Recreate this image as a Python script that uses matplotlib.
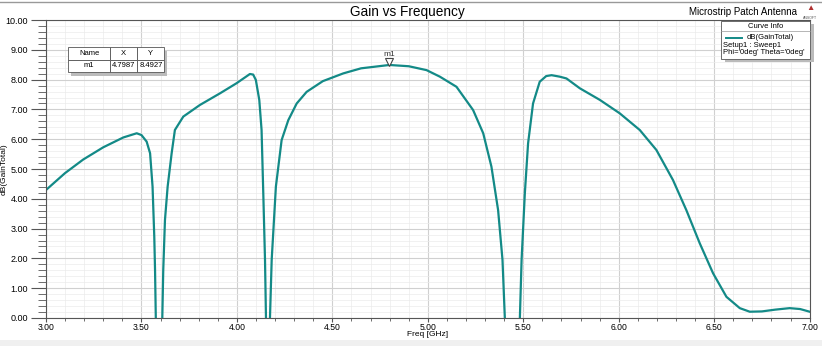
import matplotlib.pyplot as plt
from matplotlib.ticker import MultipleLocator

plt.rcParams['font.family'] = ['Liberation Sans', 'DejaVu Sans']

# dB(GainTotal) vs frequency (dips go below 0 and get clipped)
freq = [3.004, 3.099, 3.195, 3.30, 3.405, 3.475, 3.50, 3.527, 3.545, 3.558, 3.567, 3.571, 3.575,
        3.59, 3.609, 3.614, 3.623, 3.637, 3.658, 3.675, 3.719, 3.806, 3.911, 3.998, 4.068,
        4.085, 4.099, 4.117, 4.129, 4.138, 4.147, 4.152, 4.162, 4.173, 4.182, 4.204, 4.234,
        4.269, 4.313, 4.365, 4.45, 4.557, 4.65, 4.7987, 4.90, 4.993, 5.063, 5.150, 5.237,
        5.290, 5.333, 5.368, 5.391, 5.403, 5.44, 5.482, 5.491, 5.508, 5.525, 5.551, 5.586,
        5.62, 5.648, 5.691, 5.726, 5.796, 5.901, 6.005, 6.110, 6.197, 6.284, 6.354, 6.424,
        6.494, 6.564, 6.634, 6.686, 6.75, 6.82, 6.895, 6.95, 7.00]
gain = [4.32, 4.86, 5.32, 5.73, 6.06, 6.20, 6.14, 5.92, 5.53, 4.41, 2.73, 1.61, 0.0,
        -5.0, 0.0, 1.61, 3.29, 4.41, 5.53, 6.31, 6.76, 7.15, 7.54, 7.88, 8.19,
        8.17, 7.99, 7.32, 6.31, 4.18, 1.95, 0.04, -5.0, 0.0, 1.95, 4.41, 5.97,
        6.64, 7.20, 7.59, 7.95, 8.21, 8.38, 8.4927, 8.45, 8.32, 8.10, 7.76, 6.98,
        6.20, 5.08, 3.62, 1.95, 0.04, -5.0, 0.0, 1.95, 4.18, 5.86, 7.20, 7.93,
        8.12, 8.15, 8.10, 8.04, 7.71, 7.32, 6.87, 6.31, 5.64, 4.63, 3.62, 2.51,
        1.50, 0.71, 0.33, 0.21, 0.22, 0.28, 0.33, 0.30, 0.21]

marker_x = 4.7987
marker_y = 8.4927
x_ticks = [3.0, 3.5, 4.0, 4.5, 5.0, 5.5, 6.0, 6.5, 7.0]
y_ticks = [0, 1, 2, 3, 4, 5, 6, 7, 8, 9, 10]

teal = '#138a87'

fig = plt.figure(figsize=(8.22, 3.46), dpi=100)
ax = fig.add_axes([0.056, 0.081, 0.929, 0.861])

ax.plot(freq, gain, color=teal, lw=1.6, solid_joinstyle='round')
ax.plot([marker_x], [8.6], marker='v', mfc='white', mec='#444444', ms=6, mew=0.8, clip_on=False)
ax.text(marker_x, 8.72, 'm1', ha='center', va='bottom', fontsize=6, color='#333333')

ax.set_xlim(3, 7)
ax.set_ylim(0, 10)
ax.set_xticks(x_ticks)
ax.set_xticklabels([f'{v:.2f}' for v in x_ticks], fontsize=6.2)
ax.set_yticks(y_ticks)
ax.set_yticklabels([f'{v:.2f}' for v in y_ticks], fontsize=6.5)
ax.xaxis.set_minor_locator(MultipleLocator(0.1))
ax.yaxis.set_minor_locator(MultipleLocator(0.2))
ax.tick_params(axis='y', which='major', direction='out', length=11, width=0.8, color='#555555', pad=2)
ax.tick_params(axis='y', which='minor', direction='out', length=6, width=0.6, color='#555555')
ax.tick_params(axis='x', which='major', direction='out', length=3, width=0.8, color='#555555', pad=0.8)
ax.tick_params(axis='x', which='minor', direction='out', length=2, width=0.6, color='#555555')
ax.grid(which='major', color='#d0d0d0', lw=0.8)
ax.grid(which='minor', color='#ebebeb', lw=0.5)
ax.set_axisbelow(True)
for s in ax.spines.values():
    s.set_color('#555555')
    s.set_linewidth(0.8)

ax.set_xlabel('Freq [GHz]', fontsize=6)
ax.xaxis.set_label_coords(0.5, -0.043)
ax.set_ylabel('dB(GainTotal)', fontsize=6)
ax.yaxis.set_label_coords(-0.0497, 0.5)

fig.text(0.496, 0.965, 'Gain vs Frequency', ha='center', va='center', fontsize=9.8)
fig.text(0.969, 0.965, 'Microstrip Patch Antenna', ha='right', va='center', fontsize=7)
fig.text(0.986, 0.975, '\u25B2', ha='center', va='center', fontsize=6, color='#b03030')
fig.text(0.986, 0.948, 'ANSOFT', ha='center', va='center', fontsize=2.5, color='#555555')

# marker table with shadow
shadow = plt.Rectangle((0.033, 0.812), 0.126, 0.083, transform=ax.transAxes, fc='#bbbbbb',
                       ec='none', zorder=4)
ax.add_patch(shadow)
tbl = ax.table(cellText=[['m1', f'{marker_x:.4f}', f'{marker_y:.4f}']],
               colLabels=['Name', 'X', 'Y'],
               colWidths=[42, 27, 27],
               bbox=[0.029, 0.826, 0.126, 0.083], cellLoc='center')
tbl.auto_set_font_size(False)
tbl.set_fontsize(5.5)
tbl.set_zorder(5)
for cell in tbl.get_celld().values():
    cell.set_edgecolor('#555555')
    cell.set_linewidth(0.6)
    cell.PAD = 0.02

# curve info box with shadow
ax.add_patch(plt.Rectangle((0.889, 0.858), 0.117, 0.128, transform=ax.transAxes, fc='#bbbbbb',
                           ec='none', zorder=4, clip_on=False))
ax.add_patch(plt.Rectangle((0.884, 0.869), 0.117, 0.128, transform=ax.transAxes, fc='white',
                           ec='#555555', lw=0.6, zorder=5, clip_on=False))
ax.plot([0.884, 1.001], [0.963, 0.963], transform=ax.transAxes, color='#999999', lw=0.5,
        zorder=6, clip_on=False)
ax.text(0.9425, 0.98, 'Curve Info', transform=ax.transAxes, ha='center', va='center',
        fontsize=5.5, zorder=6)
ax.plot([0.89, 0.912], [0.94, 0.94], transform=ax.transAxes, color=teal, lw=1.4, zorder=6,
        clip_on=False)
ax.text(0.917, 0.94, 'dB(GainTotal)', transform=ax.transAxes, ha='left', va='center',
        fontsize=5.5, zorder=6)
ax.text(0.887, 0.914, 'Setup1 : Sweep1', transform=ax.transAxes, ha='left', va='center',
        fontsize=5.5, zorder=6)
ax.text(0.887, 0.89, "Phi='0deg' Theta='0deg'", transform=ax.transAxes, ha='left',
        va='center', fontsize=5.5, zorder=6)

# light frame lines at the top and bottom of the window
fig.add_artist(plt.Line2D([0, 1], [0.993, 0.993], transform=fig.transFigure, color='#999999', lw=1))
fig.add_artist(plt.Rectangle((0, 0), 1, 0.018, transform=fig.transFigure, fc='#f0f0f0', ec='none'))

fig.savefig('out.png', dpi=100)
